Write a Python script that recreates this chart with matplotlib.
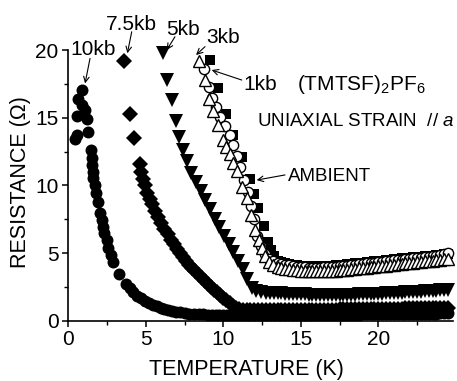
import numpy as np
import matplotlib.pyplot as plt
from matplotlib.ticker import MultipleLocator

plt.rcParams['font.family'] = ['Liberation Sans', 'DejaVu Sans']
plt.rcParams['mathtext.fontset'] = 'custom'
plt.rcParams['mathtext.rm'] = 'Liberation Sans'
plt.rcParams['mathtext.it'] = 'Liberation Sans:italic'

# temperatures of the flat high-T part, shared by all runs (K)
t_tail = [13.5, 13.75, 14.0, 14.25, 14.5, 14.75, 15.0, 15.25, 15.5, 15.75,
          16.0, 16.25, 16.5, 16.75, 17.0, 17.25, 17.5, 17.75, 18.0, 18.25,
          18.5, 18.75, 19.0, 19.25, 19.5, 19.75, 20.0, 20.25, 20.5, 20.75,
          21.0, 21.25, 21.5, 21.75, 22.0, 22.25, 22.5, 22.75, 23.0, 23.25,
          23.5, 23.75, 24.0, 24.25, 24.5]

# 10 kb (filled circles)
t_10kb = [0.86, 0.65, 0.86, 1.08, 0.58, 1.23, 1.29, 0.54, 0.43,
          1.46, 1.51, 1.55, 1.57, 1.61, 1.70, 1.79, 1.94, 2.05, 2.15,
          2.22, 2.32, 2.48, 2.58, 2.74, 2.86, 3.27, 3.70, 3.95, 4.20,
          4.45, 4.70, 4.95, 5.20, 5.45, 5.70, 5.95, 6.20, 6.45, 6.70,
          6.95, 7.20, 7.50, 7.80, 8.10, 8.40, 8.70, 9.00, 9.25, 9.50,
          9.75, 10.0, 10.25, 10.5, 10.75, 11.0, 11.25, 11.5, 11.75, 12.0,
          12.25, 12.5, 12.75, 13.0, 13.25]
r_10kb = [17.06, 16.37, 15.95, 15.58, 15.14, 14.90, 13.98, 13.73, 13.42,
          12.62, 12.00, 11.52, 11.02, 10.53, 10.00, 9.47, 8.76, 7.94, 7.45,
          6.95, 6.46, 5.97, 5.35, 4.86, 4.36, 3.43, 2.69, 2.40, 2.10,
          1.85, 1.65, 1.47, 1.32, 1.18, 1.06, 0.96, 0.87, 0.79, 0.72,
          0.66, 0.61, 0.57, 0.53, 0.50, 0.48, 0.46, 0.45, 0.44, 0.44,
          0.43, 0.43, 0.43, 0.43, 0.42, 0.42, 0.42, 0.42, 0.42, 0.42,
          0.42, 0.42, 0.42, 0.42, 0.42]
r_10kb_tail = [0.42, 0.42, 0.42, 0.42, 0.42, 0.42, 0.42, 0.42, 0.42, 0.43,
               0.43, 0.43, 0.43, 0.43, 0.44, 0.44, 0.44, 0.44, 0.45, 0.45,
               0.45, 0.45, 0.46, 0.46, 0.46, 0.47, 0.47, 0.47, 0.48, 0.48,
               0.48, 0.49, 0.49, 0.49, 0.50, 0.50, 0.51, 0.51, 0.52, 0.52,
               0.53, 0.53, 0.54, 0.54, 0.55]

# 7.5 kb (filled diamonds)
t_75kb = [3.59, 3.98, 4.24,
          4.60, 4.70, 4.80, 4.95, 5.10, 5.25, 5.40, 5.60, 5.80, 6.00,
          6.2, 6.4, 6.6, 6.8, 7.0, 7.2, 7.4, 7.6, 7.8, 8.0,
          8.2, 8.4, 8.6, 8.8, 9.0, 9.2, 9.4, 9.6, 9.8, 10.0,
          10.2, 10.4, 10.6, 10.8, 11.0,
          11.25, 11.5, 11.75, 12.0, 12.25, 12.5, 12.75, 13.0, 13.25]
r_75kb = [19.2, 15.3, 13.5,
          11.6, 11.0, 10.5, 10.0, 9.45, 9.0, 8.6, 8.1, 7.65, 7.2,
          6.8, 6.4, 6.0, 5.65, 5.3, 5.0, 4.7, 4.4, 4.15, 3.9,
          3.65, 3.4, 3.15, 2.9, 2.7, 2.5, 2.3, 2.1, 1.9, 1.7,
          1.5, 1.3, 1.1, 0.95, 0.85,
          0.80, 0.79, 0.78, 0.78, 0.78, 0.78, 0.78, 0.79, 0.79]
r_75kb_tail = [0.79, 0.79, 0.79, 0.79, 0.79, 0.79, 0.80, 0.80, 0.80, 0.80,
               0.81, 0.81, 0.81, 0.82, 0.82, 0.82, 0.83, 0.83, 0.83, 0.84,
               0.84, 0.85, 0.85, 0.86, 0.86, 0.87, 0.87, 0.88, 0.88, 0.89,
               0.89, 0.90, 0.90, 0.91, 0.91, 0.92, 0.92, 0.93, 0.93, 0.94,
               0.94, 0.95, 0.95, 0.96, 0.96]

# 5 kb (filled down triangles)
t_5kb = [6.13, 6.39, 6.67, 6.95, 7.16, 7.42, 7.64, 7.94, 8.24, 8.54,
         8.84, 9.14, 9.44, 9.74, 10.04, 10.34, 10.64, 10.94, 11.24, 11.54,
         11.84, 12.14, 12.44, 12.74, 13.04, 13.25]
r_5kb = [19.8, 17.8, 16.3, 14.8, 13.6, 12.6, 11.8, 10.95, 10.25, 9.6,
         8.9, 8.25, 7.55, 6.9, 6.25, 5.65, 5.1, 4.45, 3.8, 3.1,
         2.45, 2.2, 2.1, 2.07, 2.05, 2.05]
r_5kb_tail = [2.04, 2.02, 2.00, 1.98, 1.97, 1.96, 1.95, 1.94, 1.93, 1.92,
              1.92, 1.91, 1.91, 1.90, 1.90, 1.90, 1.90, 1.91, 1.91, 1.92,
              1.93, 1.94, 1.95, 1.96, 1.97, 1.98, 2.00, 2.01, 2.02, 2.04,
              2.05, 2.06, 2.08, 2.09, 2.10, 2.12, 2.13, 2.15, 2.17, 2.18,
              2.20, 2.22, 2.24, 2.27, 2.30]

# ambient (filled squares)
t_amb = [9.14, 9.68, 10.17, 10.65, 11.20, 11.70, 12.00, 12.25, 12.60, 12.90,
         13.10, 13.30]
r_amb = [19.3, 17.2, 15.3, 13.7, 12.1, 10.5, 9.4, 8.3, 7.0, 5.85,
         5.2, 4.75]
r_amb_tail = [4.45, 4.35, 4.27, 4.20, 4.15, 4.11, 4.08, 4.05, 4.03, 4.02,
              4.02, 4.03, 4.04, 4.06, 4.08, 4.10, 4.12, 4.15, 4.18, 4.21,
              4.24, 4.27, 4.30, 4.33, 4.36, 4.39, 4.42, 4.45, 4.48, 4.51,
              4.54, 4.57, 4.60, 4.62, 4.65, 4.68, 4.70, 4.73, 4.76, 4.78,
              4.81, 4.84, 4.87, 4.90, 4.93]

# 1 kb (open circles)
t_1kb = [8.75, 9.05, 9.30, 9.55, 9.80, 10.10, 10.40, 10.65, 10.90, 11.10,
         11.35, 11.60, 11.80, 11.95, 12.20, 12.45, 12.70, 12.95, 13.20]
r_1kb = [18.6, 17.3, 16.5, 15.8, 15.1, 14.4, 13.7, 13.0, 12.2, 11.4,
         10.4, 9.5, 8.5, 7.5, 6.3, 5.5, 4.9, 4.55, 4.40]
r_1kb_tail = [4.30, 4.22, 4.15, 4.09, 4.04, 4.00, 3.97, 3.95, 3.93, 3.92,
              3.92, 3.93, 3.94, 3.96, 3.98, 4.00, 4.02, 4.05, 4.08, 4.11,
              4.14, 4.17, 4.20, 4.23, 4.27, 4.30, 4.33, 4.36, 4.40, 4.43,
              4.46, 4.49, 4.52, 4.55, 4.58, 4.61, 4.64, 4.67, 4.70, 4.73,
              4.76, 4.80, 4.84, 4.90, 4.98]

# 3 kb (open up triangles)
t_3kb = [8.45, 8.82, 9.10, 9.35, 9.65, 9.96, 10.18, 10.40, 10.65, 10.90,
         11.20, 11.50, 11.80, 12.05, 12.30, 12.50, 12.70, 12.95, 13.20]
r_3kb = [19.2, 17.8, 16.4, 15.5, 14.45, 13.4, 12.85, 12.3, 11.7, 11.1,
         9.9, 9.05, 7.8, 6.7, 6.0, 5.4, 4.75, 4.35, 4.1]
r_3kb_tail = [4.00, 3.92, 3.86, 3.81, 3.77, 3.74, 3.71, 3.69, 3.67, 3.66,
              3.65, 3.65, 3.66, 3.67, 3.69, 3.71, 3.73, 3.75, 3.78, 3.81,
              3.84, 3.87, 3.90, 3.93, 3.96, 3.99, 4.02, 4.05, 4.08, 4.11,
              4.14, 4.17, 4.20, 4.23, 4.26, 4.29, 4.32, 4.35, 4.38, 4.41,
              4.44, 4.47, 4.50, 4.53, 4.56]

fig = plt.figure(figsize=(4.57, 3.81), dpi=100)
ax = fig.add_axes([0.1495, 0.1583, 0.8411, 0.7097])

common = dict(linestyle='none', clip_on=False)
ax.plot(t_10kb + t_tail, r_10kb + r_10kb_tail, marker='o', ms=8.6,
        color='k', mew=0, **common)
ax.plot(t_75kb + t_tail, r_75kb + r_75kb_tail, marker='D', ms=8,
        color='k', mew=0, **common)
ax.plot(t_5kb + t_tail, r_5kb + r_5kb_tail, marker='v', ms=10.5,
        color='k', mew=0, **common)
ax.plot(t_amb + t_tail, r_amb + r_amb_tail, marker='s', ms=7.2,
        color='k', mew=0, **common)
ax.plot(t_1kb + t_tail, r_1kb + r_1kb_tail, marker='o', ms=7.4,
        mfc='white', mec='k', mew=1.0, **common)
ax.plot(t_3kb + t_tail, r_3kb + r_3kb_tail, marker='^', ms=8.8,
        mfc='white', mec='k', mew=1.0, **common)

ax.set_xlim(0, 24.8)
ax.set_ylim(0, 20)
ax.xaxis.set_major_locator(MultipleLocator(5))
ax.xaxis.set_minor_locator(MultipleLocator(2.5))
ax.yaxis.set_major_locator(MultipleLocator(5))
ax.yaxis.set_minor_locator(MultipleLocator(2.5))
for s in ['top', 'right']:
    ax.spines[s].set_visible(False)
for s in ['left', 'bottom']:
    ax.spines[s].set_linewidth(1.2)
ax.tick_params(which='major', direction='out', length=4, width=1.1,
               labelsize=15, pad=3)
ax.tick_params(which='minor', direction='out', length=3, width=1.0)

ax.set_xlabel('TEMPERATURE (K)', fontsize=15.5)
ax.set_ylabel('RESISTANCE (\u03a9)', fontsize=15.5)
ax.xaxis.set_label_coords(0.464, -0.142)
ax.yaxis.set_label_coords(-0.098, 0.513)

# labels with arrows: (text, text pos, arrow tail, arrow head, size)
labels = [
    ('10kb', (1.61, 19.65), (1.40, 19.40), (1.08, 17.55), 15),
    ('7.5kb', (4.08, 21.5), (4.09, 21.37), (3.81, 19.78), 15),
    ('5kb', (7.39, 21.13), (6.88, 21.0), (6.35, 20.02), 15),
    ('3kb', (10.0, 20.54), (8.82, 20.27), (8.24, 19.65), 15),
    ('1kb', (12.4, 17.07), (11.19, 17.8), (9.25, 18.54), 15),
]
for txt, pos, tail, head, fs in labels:
    ax.text(pos[0], pos[1], txt, ha='center', va='baseline', fontsize=fs)
    ax.annotate('', xy=head, xytext=tail, annotation_clip=False,
                arrowprops=dict(arrowstyle='->', lw=0.8, color='k',
                                shrinkA=0, shrinkB=0))

ax.text(14.17, 10.33, 'AMBIENT', ha='left', va='baseline', fontsize=13.5)
ax.annotate('', xy=(12.15, 10.4), xytext=(13.98, 10.78), annotation_clip=False,
            arrowprops=dict(arrowstyle='->', lw=0.8, color='k',
                            shrinkA=0, shrinkB=0))

ax.text(14.73, 17.07, r'(TMTSF)$_\mathregular{2}$PF$_\mathregular{6}$',
        ha='left', va='baseline', fontsize=15)
ax.text(12.15, 14.4, r'UNIAXIAL STRAIN  // $\mathit{a}$',
        ha='left', va='baseline', fontsize=13.5)

fig.savefig('out.png', dpi=100)
